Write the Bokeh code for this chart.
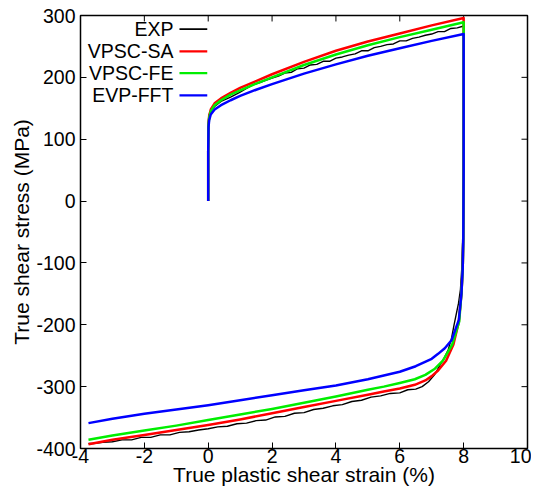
from bokeh.plotting import figure
from bokeh.models import Range1d, FixedTicker
from bokeh.embed import file_html
from bokeh.resources import INLINE
from bokeh.core.properties import value

# ---------------- data ----------------
x_ticks = [-4, -2, 0, 2, 4, 6, 8, 10]
y_ticks = [-400, -300, -200, -100, 0, 100, 200, 300]

series_names = ["EXP", "VPSC-SA", "VPSC-FE", "EVP-FFT"]

exp_strain = [0, 0, 0, 0.01, 0.03, 0.08, 0.2, 0.4, 0.7, 1.0,
              1.2, 1.4, 1.6, 1.8, 2.0, 2.2, 2.4, 2.6, 2.8, 3.0,
              3.2, 3.4, 3.6, 3.8, 4.0, 4.2, 4.4, 4.6, 4.8, 5.0,
              5.2, 5.4, 5.6, 5.8, 6.0, 6.2, 6.4, 6.6, 6.8, 7.0,
              7.2, 7.4, 7.6, 7.8, 8.0,
              8.0, 7.99, 7.97, 7.94, 7.9, 7.84, 7.78, 7.7, 7.62, 7.52,
              7.4, 7.25, 7.1, 6.9, 6.7, 6.5, 6.25, 6.0, 5.7, 5.4,
              5.1, 4.8, 4.5, 4.2, 3.9, 3.6, 3.3, 3.0, 2.7, 2.4,
              2.1, 1.8, 1.5, 1.2, 0.9, 0.6, 0.3, 0.0, -0.3, -0.6,
              -0.9, -1.2, -1.5, -1.8, -2.1, -2.4, -2.7, -3.0, -3.3, -3.6, -3.75]
exp_stress = [0, 60, 120, 132, 140, 146, 153, 161, 168, 176,
              182, 188, 191, 195, 199, 202, 207, 208, 214, 215,
              220, 221, 226, 226, 231, 233, 236, 238, 243, 243,
              248, 250, 253, 254, 259, 259, 263, 265, 268, 270,
              274, 274, 279, 280, 283,
              150, 20, -60, -110, -143, -165, -180, -200, -222, -240,
              -253, -266, -280, -292, -300, -304, -305, -310, -311, -315,
              -317, -322, -324, -329, -331, -335, -337, -342, -343, -348,
              -349, -354, -355, -359, -360, -364, -365, -368, -370, -373,
              -374, -378, -378, -382, -382, -386, -386, -389, -390, -392, -392]

sa_strain = [0, 0, 0.01, 0.03, 0.08, 0.2, 0.4, 0.7, 1.0, 1.5, 2, 3, 4, 5, 6, 7, 8,
             8, 7.99, 7.97, 7.93, 7.85, 7.68, 7.45, 7.2, 7.0, 6.8, 6.47, 6.0, 5.5, 5,
             4, 3, 2, 1, 0, -1, -2, -3, -3.75]
sa_stress = [0, 80, 125, 138, 148, 158, 166, 175, 183, 194, 205, 225, 243, 258, 271, 284, 296,
             50, -60, -110, -150, -195, -232, -258, -274, -283, -290, -297, -303, -308, -313,
             -323, -333, -343, -353, -362, -370, -378, -386, -393]

fe_strain = [0, 0, 0.01, 0.03, 0.08, 0.2, 0.4, 0.7, 1.0, 1.5, 2, 3, 4, 5, 6, 7, 8,
             8, 7.99, 7.97, 7.93, 7.86, 7.64, 7.35, 7.1, 6.8, 6.47, 6.0, 5.5, 5,
             4, 3, 2, 1, 0, -1, -2, -3, -3.75]
fe_stress = [0, 80, 123, 135, 145, 155, 163, 172, 179, 190, 200, 220, 237, 252, 265, 277, 289,
             50, -60, -110, -150, -195, -232, -258, -271, -281, -288, -294, -300, -305,
             -316, -326, -336, -345, -354, -363, -371, -379, -386]

fft_strain = [0, 0, 0.01, 0.03, 0.08, 0.2, 0.4, 0.7, 1.0, 1.5, 2, 3, 4, 5, 6, 7, 8,
              8, 7.99, 7.97, 7.93, 7.85, 7.62, 7.41, 7.2, 7.0, 6.5, 6.0, 5.5, 5,
              4, 3, 2, 1, 0, -1, -2, -3, -3.75]
fft_stress = [0, 80, 120, 131, 140, 148, 155, 163, 170, 180, 189, 206, 221, 235, 247, 259, 270,
              50, -60, -110, -150, -192, -225, -238, -247, -255, -267, -276, -282, -288,
              -298, -306, -314, -322, -330, -337, -344, -352, -359]

# ---------------- styling ----------------
FONT = "Liberation Sans"
colors = ["#000000", "#ff0000", "#00ee00", "#0000ff"]
widths = [1.4, 2.5, 2.5, 2.5]

X0, X1, Y0, Y1 = -4, 10, -400, 300
W, H = 531, 488
BL, BR, BT, BB = 80, 4, 15, 38
px_per_y = (H - BT - BB) / (Y1 - Y0)
px_per_x = (W - BL - BR) / (X1 - X0)

p = figure(width=W, height=H, output_backend="svg", toolbar_location=None,
           x_range=Range1d(X0, X1), y_range=Range1d(Y0, Y1),
           min_border_left=BL, min_border_right=BR, min_border_top=BT, min_border_bottom=BB)
p.grid.visible = False
p.outline_line_color = "black"
p.outline_line_width = 1.5
p.outline_line_alpha = 1.0
p.background_fill_color = "white"
p.border_fill_color = "white"

p.xaxis.ticker = FixedTicker(ticks=x_ticks)
p.yaxis.ticker = FixedTicker(ticks=y_ticks)
p.xaxis.major_label_overrides = {t: str(t) for t in x_ticks}
p.yaxis.major_label_overrides = {t: str(t) for t in y_ticks}
for ax in (p.xaxis[0], p.yaxis[0]):
    ax.axis_line_color = None
    ax.major_tick_in = 6
    ax.major_tick_out = 0
    ax.major_tick_line_color = "black"
    ax.minor_tick_line_color = None
    ax.major_label_text_font = FONT
    ax.major_label_text_font_size = "19.5px"
    ax.major_label_text_color = "black"
    ax.axis_label_text_font = FONT
    ax.axis_label_text_font_size = "21px"
    ax.axis_label_text_font_style = "normal"
    ax.axis_label_text_color = "black"

p.xaxis.axis_label = "True plastic shear strain (%)"
p.yaxis.axis_label = "True shear stress (MPa)"
p.xaxis.major_label_standoff = 0
p.xaxis.axis_label_standoff = -3
p.yaxis.major_label_standoff = 5
p.yaxis.axis_label_standoff = 0

# mirrored inward ticks on top and right edges
tick_len = 6
p.segment(x0=x_ticks[1:-1], y0=[Y1] * (len(x_ticks) - 2),
          x1=x_ticks[1:-1], y1=[Y1 - tick_len / px_per_y] * (len(x_ticks) - 2),
          line_color="black", line_width=1)
p.segment(x0=[X1] * (len(y_ticks) - 2), y0=y_ticks[1:-1],
          x1=[X1 - tick_len / px_per_x] * (len(y_ticks) - 2), y1=y_ticks[1:-1],
          line_color="black", line_width=1)

data = [(exp_strain, exp_stress), (sa_strain, sa_stress),
        (fe_strain, fe_stress), (fft_strain, fft_stress)]
for (xs, ys), c, w in zip(data, colors, widths):
    p.line(xs, ys, line_color=c, line_width=w, line_join="round")

# legend (gnuplot style: label then sample line on the right)
leg_text_x = -1.09
leg_line_x0, leg_line_x1 = -0.90, -0.03
leg_rows = [278, 242, 207, 171]
for name, c, yy in zip(series_names, colors, leg_rows):
    p.text(x=[leg_text_x], y=[yy], text=[name], text_align="right", text_baseline="middle",
           text_font=value(FONT), text_font_size="19.5px", text_color="black")
    p.segment(x0=[leg_line_x0], y0=[yy], x1=[leg_line_x1], y1=[yy], line_color=c,
              line_width=2.2 if c != "#000000" else 1.6)

open("out.html", "w").write(file_html(p, INLINE))
